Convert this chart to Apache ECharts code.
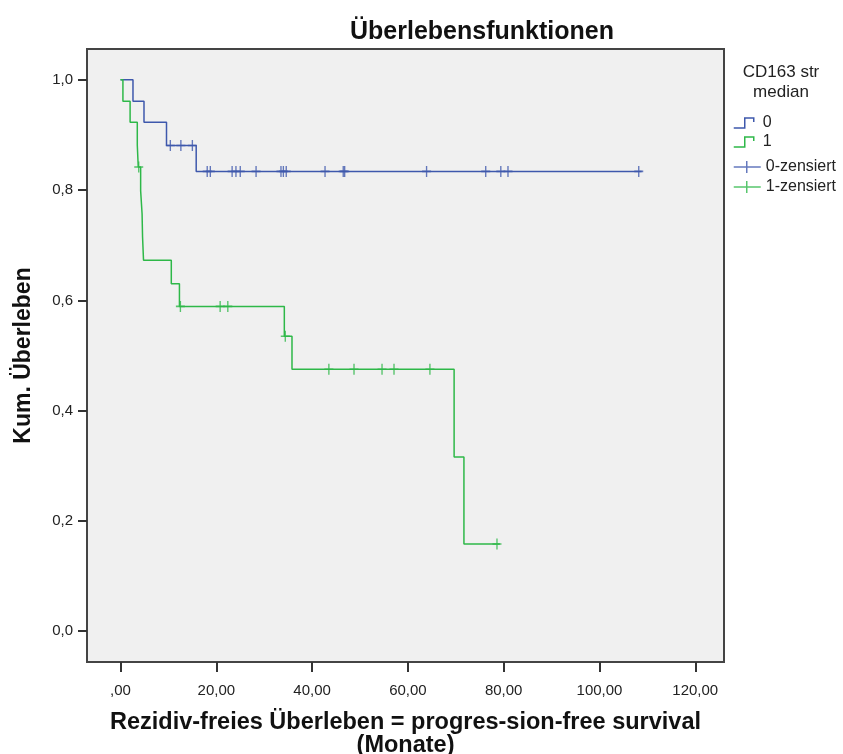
<!DOCTYPE html>
<html>
<head>
<meta charset="utf-8">
<script src="https://cdn.jsdelivr.net/npm/echarts@6/dist/echarts.min.js"></script>
<style>
  html, body { margin: 0; padding: 0; background: #fff; }
  #chart { width: 843px; height: 754px; }
</style>
</head>
<body>
<div id="chart"></div>
<script>
// Kaplan-Meier steps, group 0 (blue)
const times0 = [0, 2.6, 4.9, 9.6, 15.8, 108.8];
const surv0 = [1, 0.961, 0.923, 0.881, 0.834, 0.834];
const censT0 = [10.4, 12.6, 15.0, 18.1, 18.75, 23.3, 24.1, 25.0, 28.3, 33.5, 34.0, 34.6,
  42.7, 46.5, 46.8, 63.9, 76.25, 79.4, 80.9, 108.2];
const censS0 = [0.881, 0.881, 0.881, 0.834, 0.834, 0.834, 0.834, 0.834, 0.834, 0.834, 0.834, 0.834,
  0.834, 0.834, 0.834, 0.834, 0.834, 0.834, 0.834, 0.834];

// group 1 (green)
const times1 = [0, 0.5, 2.0, 3.5, 3.7, 4.2, 4.5, 4.6, 4.8, 10.6, 12.3, 34.2, 35.8, 69.65, 71.7, 79.2];
const surv1 = [1, 0.961, 0.923, 0.882, 0.842, 0.799, 0.757, 0.715, 0.673, 0.630, 0.589, 0.535, 0.475, 0.316, 0.158, 0.158];
const censT1 = [3.8, 12.5, 20.8, 22.4, 34.4, 43.5, 48.75, 54.6, 57.1, 64.6, 78.6];
const censS1 = [0.842, 0.589, 0.589, 0.589, 0.535, 0.475, 0.475, 0.475, 0.475, 0.475, 0.158];

const xTicks = [0, 20, 40, 60, 80, 100, 120];
const yTicks = [0, 0.2, 0.4, 0.6, 0.8, 1.0];

const BLUE = '#3e58ac';
const GREEN = '#2eb848';
const FONT = 'Liberation Sans, Arial, sans-serif';

const zip = (a, b) => a.map((v, i) => [v, b[i]]);
const stepIcon = 'path://M0,11 L11,11 L11,1 L20,1 L20,5';
const plusIcon = 'path://M0,6 L27,6 M13,0 L13,12';

const chart = echarts.init(document.getElementById('chart'));
chart.setOption({
  backgroundColor: '#fff',
  animation: false,
  textStyle: { fontFamily: FONT },
  title: {
    text: 'Überlebensfunktionen',
    left: 345,
    top: 15,
    textStyle: { fontSize: 25, fontWeight: 'bold', color: '#111', fontFamily: FONT }
  },
  graphic: [{
    type: 'text',
    x: 781,
    y: 62,
    style: {
      text: 'CD163 str\nmedian',
      align: 'center',
      fill: '#222',
      font: '17px ' + FONT,
      lineHeight: 20
    }
  }],
  legend: [{
    data: [
      { name: '0', icon: stepIcon, itemStyle: { color: 'rgba(0,0,0,0)', borderColor: BLUE, borderWidth: 1.5 } },
      { name: '1', icon: stepIcon, itemStyle: { color: 'rgba(0,0,0,0)', borderColor: GREEN, borderWidth: 1.5 } }
    ],
    orient: 'vertical',
    left: 733,
    top: 115,
    padding: 0,
    itemWidth: 20,
    itemHeight: 12,
    itemGap: 3,
    itemTextGap: 11,
    selectedMode: false,
    textStyle: { fontSize: 16, color: '#222', padding: [0, 0, 0, 4] }
  }, {
    data: [
      { name: '0-zensiert', icon: plusIcon, itemStyle: { color: 'rgba(0,0,0,0)', borderColor: BLUE, borderWidth: 1.5 } },
      { name: '1-zensiert', icon: plusIcon, itemStyle: { color: 'rgba(0,0,0,0)', borderColor: GREEN, borderWidth: 1.5 } }
    ],
    orient: 'vertical',
    left: 733,
    top: 159,
    padding: 0,
    itemWidth: 27,
    itemHeight: 12,
    itemGap: 4,
    itemTextGap: 4,
    selectedMode: false,
    textStyle: { fontSize: 16, color: '#222' }
  }],
  grid: {
    left: 87,
    top: 49,
    width: 637,
    height: 613,
    outerBoundsMode: 'none',
    containLabel: false,
    show: true,
    backgroundColor: '#f0f0f0',
    borderColor: '#444',
    borderWidth: 2
  },
  xAxis: {
    type: 'value',
    min: -7,
    max: 126,
    splitLine: { show: false },
    axisLine: { show: false, onZero: false },
    axisTick: { show: true, length: 10, customValues: xTicks, lineStyle: { color: '#333', width: 2 } },
    axisLabel: {
      customValues: xTicks,
      margin: 21,
      fontSize: 15,
      color: '#222',
      formatter: v => v === 0 ? ',00' : v.toFixed(2).replace('.', ',')
    },
    name: 'Rezidiv-freies Überleben = progres-sion-free survival\n(Monate)',
    nameLocation: 'middle',
    nameGap: 49,
    nameTextStyle: { fontSize: 23.5, fontWeight: 'bold', color: '#111', lineHeight: 23 }
  },
  yAxis: {
    type: 'value',
    min: -0.056,
    max: 1.056,
    splitLine: { show: false },
    axisLine: { show: false, onZero: false },
    axisTick: { show: true, length: 9, customValues: yTicks, lineStyle: { color: '#333', width: 2 } },
    axisLabel: {
      customValues: yTicks,
      margin: 14,
      fontSize: 15,
      color: '#222',
      formatter: v => v.toFixed(1).replace('.', ',')
    },
    name: 'Kum. Überleben',
    nameLocation: 'middle',
    nameGap: 52,
    nameTextStyle: { fontSize: 23, fontWeight: 'bold', color: '#111' }
  },
  series: [{
    name: '0',
    type: 'line',
    step: 'end',
    data: zip(times0, surv0),
    showSymbol: false,
    color: BLUE,
    lineStyle: { color: BLUE, width: 1.5 }
  }, {
    name: '1',
    type: 'line',
    step: 'end',
    data: zip(times1, surv1),
    showSymbol: false,
    color: GREEN,
    lineStyle: { color: GREEN, width: 1.5 }
  }, {
    name: '0-zensiert',
    type: 'scatter',
    data: zip(censT0, censS0),
    symbol: 'path://M0,5 L10,5 M5,0 L5,10',
    symbolSize: [9, 11],
    color: BLUE,
    itemStyle: { color: 'rgba(0,0,0,0)', borderColor: BLUE, borderWidth: 1.5 }
  }, {
    name: '1-zensiert',
    type: 'scatter',
    data: zip(censT1, censS1),
    symbol: 'path://M0,5 L10,5 M5,0 L5,10',
    symbolSize: [9, 11],
    color: GREEN,
    itemStyle: { color: 'rgba(0,0,0,0)', borderColor: GREEN, borderWidth: 1.5 }
  }]
});
</script>
</body>
</html>
